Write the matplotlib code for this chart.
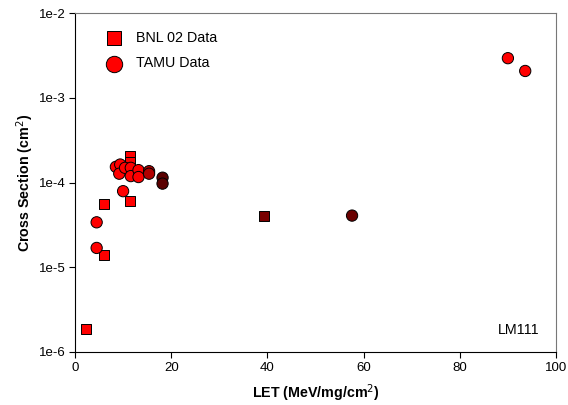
import matplotlib
matplotlib.use("Agg")
import matplotlib.pyplot as plt
from matplotlib.ticker import FixedLocator, FixedFormatter

plt.rcParams["font.family"] = ["Liberation Sans", "DejaVu Sans"]

# BNL 02 data (squares)
bnl_let = [2.3, 6.0, 6.0, 11.4, 11.4, 11.4, 39.3]
bnl_xs = [1.87e-6, 1.41e-5, 5.6e-5, 6.1e-5, 2.03e-4, 1.73e-4, 4.07e-5]
bnl_colors = ["#ff0000", "#ff0000", "#ff0000", "#ff0000", "#ff0000", "#ff0000", "#7a0000"]

# TAMU data (circles)
tamu_let = [4.5, 4.5, 10.0, 8.5, 9.4, 9.2, 10.4, 11.6, 11.6, 13.2, 13.2,
            15.4, 15.4, 18.2, 18.2, 57.6, 90.0, 93.6]
tamu_xs = [3.39e-5, 1.69e-5, 7.9e-5, 1.53e-4, 1.63e-4, 1.27e-4, 1.49e-4, 1.49e-4,
           1.19e-4, 1.40e-4, 1.16e-4, 1.36e-4, 1.27e-4, 1.14e-4, 9.7e-5,
           4.07e-5, 2.93e-3, 2.07e-3]
tamu_colors = ["#ff0000"] * 11 + ["#b00000", "#b00000", "#5a0000", "#5a0000",
                                  "#6a0000", "#ff0000", "#ff0000"]

fig = plt.figure(figsize=(5.68, 4.05), dpi=100)
ax = fig.add_axes([75 / 568, 1 - 352 / 405, 481 / 568, 339 / 405])

ax.scatter(bnl_let, bnl_xs, marker="s", s=52, c=bnl_colors, edgecolors="black",
           linewidths=0.7, zorder=3, label="BNL 02 Data")
ax.scatter(tamu_let, tamu_xs, marker="o", s=66, c=tamu_colors, edgecolors="black",
           linewidths=0.7, zorder=3, label="TAMU Data")

ax.set_yscale("log")
ax.set_xlim(0, 100)
ax.set_ylim(1e-6, 1e-2)
yt = [1e-6, 1e-5, 1e-4, 1e-3, 1e-2]
ax.yaxis.set_major_locator(FixedLocator(yt))
ax.yaxis.set_major_formatter(FixedFormatter(["1e-6", "1e-5", "1e-4", "1e-3", "1e-2"]))
ax.yaxis.set_minor_locator(FixedLocator([]))
ax.set_xticks([0, 20, 40, 60, 80, 100])

ax.tick_params(axis="both", direction="out", length=4, width=0.8, labelsize=9.5,
               pad=3, top=False, right=False)
for side in ["top", "right"]:
    ax.spines[side].set_color("#777777")
for side in ["left", "bottom"]:
    ax.spines[side].set_color("black")

ax.set_xlabel("LET (MeV/mg/cm$^2$)", fontsize=10.3, fontweight="bold", labelpad=6)
ax.set_ylabel("Cross Section (cm$^2$)", fontsize=10.3, fontweight="bold", labelpad=2)

leg = ax.legend(loc="upper left", bbox_to_anchor=(0.035, 0.985), frameon=False,
                fontsize=10.3, markerscale=1.45, handlelength=1.3,
                handletextpad=0.9, labelspacing=0.8)
for h in leg.legend_handles:
    h.set_facecolor("#ff0000")

ax.text(0.965, 0.045, "LM111", transform=ax.transAxes, ha="right", va="bottom",
        fontsize=10.3)

plt.savefig("out.png", dpi=100)
